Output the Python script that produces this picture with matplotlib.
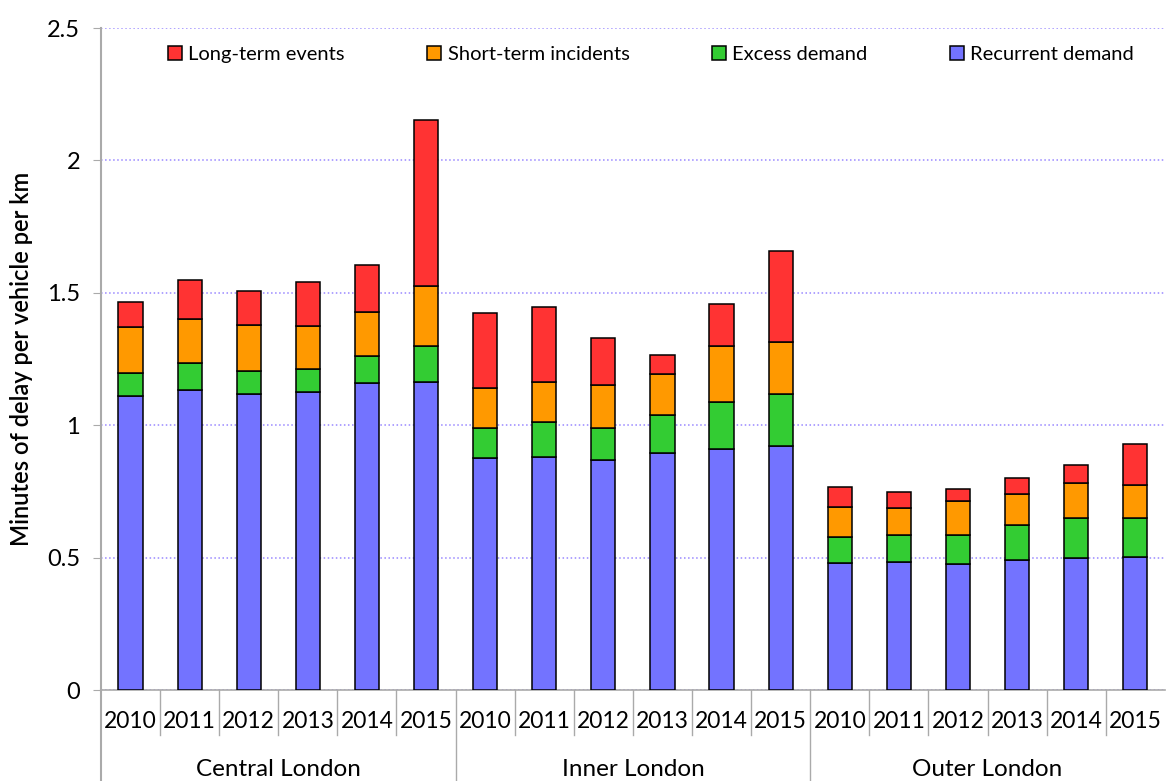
import matplotlib
matplotlib.use("Agg")
import matplotlib.pyplot as plt
import matplotlib.transforms as mtransforms
import numpy as np

plt.rcParams["font.family"] = ["Lato", "DejaVu Sans"]

# -----------------------------
# Data
# -----------------------------
groups = ["Central London", "Inner London", "Outer London"]
years = ["2010", "2011", "2012", "2013", "2014", "2015"]

recurrent = [1.109, 1.134, 1.119, 1.124, 1.159, 1.164,
             0.876, 0.880, 0.869, 0.895, 0.910, 0.921,
             0.478, 0.482, 0.477, 0.490, 0.500, 0.501]
excess = [0.087, 0.102, 0.087, 0.088, 0.104, 0.134,
          0.112, 0.131, 0.119, 0.144, 0.179, 0.196,
          0.099, 0.103, 0.107, 0.134, 0.148, 0.149]
short_term = [0.175, 0.165, 0.174, 0.163, 0.166, 0.228,
              0.154, 0.151, 0.164, 0.154, 0.209, 0.196,
              0.113, 0.102, 0.131, 0.116, 0.133, 0.124]
long_term = [0.093, 0.147, 0.128, 0.166, 0.176, 0.627,
             0.283, 0.283, 0.176, 0.073, 0.161, 0.344,
             0.076, 0.060, 0.044, 0.059, 0.068, 0.156]

series = [
    ("Recurrent demand", recurrent, "#7373ff"),
    ("Excess demand", excess, "#33cc33"),
    ("Short-term incidents", short_term, "#ff9900"),
    ("Long-term events", long_term, "#ff3333"),
]

# -----------------------------
# Figure
# -----------------------------
fig = plt.figure(figsize=(11.66, 7.81), dpi=100)
ax = fig.add_axes([0.0866, 0.1165, 0.9124, 0.8476])

n = len(groups) * len(years)
x = np.arange(n)
bottom = np.zeros(n)
handles = {}
for name, vals, col in series:
    bars = ax.bar(x, vals, 0.41, bottom=bottom, color=col,
                  edgecolor="black", linewidth=1.1, label=name, zorder=3)
    handles[name] = bars
    bottom += np.array(vals)

ax.set_xlim(-0.5, n - 0.5)
ax.set_ylim(0, 2.5)
ax.set_yticks([0, 0.5, 1, 1.5, 2, 2.5])
ax.set_yticklabels(["0", "0.5", "1", "1.5", "2", "2.5"], fontsize=17)
ax.yaxis.grid(True, linestyle=":", color="#9988ff", linewidth=1.1, zorder=0)
ax.tick_params(axis="y", length=6, color="#aaaaaa", pad=9)
ax.set_xticks([])

for side in ("top", "right"):
    ax.spines[side].set_visible(False)
ax.spines["left"].set_color("#aaaaaa")
ax.spines["left"].set_linewidth(1.5)
ax.spines["bottom"].set_color("#aaaaaa")
ax.spines["bottom"].set_linewidth(1.2)

ax.set_ylabel("Minutes of delay per vehicle per km", fontsize=17,
              fontweight="semibold", labelpad=10)

# x-axis category labels
trans = mtransforms.blended_transform_factory(ax.transData, ax.transAxes)
for i in range(n):
    ax.text(i, -0.047, years[i % len(years)], transform=trans,
            ha="center", va="center", fontsize=16.5)
for i in range(1, n):
    y_end = -0.2 if i % len(years) == 0 else -0.068
    ax.plot([i - 0.5, i - 0.5], [0, y_end], transform=trans,
            color="#aaaaaa", linewidth=1.0, clip_on=False)
ax.plot([-0.5, -0.5], [0, -0.2], transform=trans,
        color="#aaaaaa", linewidth=1.5, clip_on=False)
for g, name in enumerate(groups):
    ax.text(g * len(years) + (len(years) - 1) / 2, -0.12, name,
            transform=trans, ha="center", va="center", fontsize=17.5)

# legend
order = ["Long-term events", "Short-term incidents", "Excess demand", "Recurrent demand"]
leg = ax.legend([handles[k] for k in order], order, ncol=4,
                loc="upper center", bbox_to_anchor=(0.517, 1.0),
                frameon=False, fontsize=14.5, handlelength=0.7,
                handleheight=0.7, handletextpad=0.3, columnspacing=4.1)

fig.savefig("out.png", dpi=100)
